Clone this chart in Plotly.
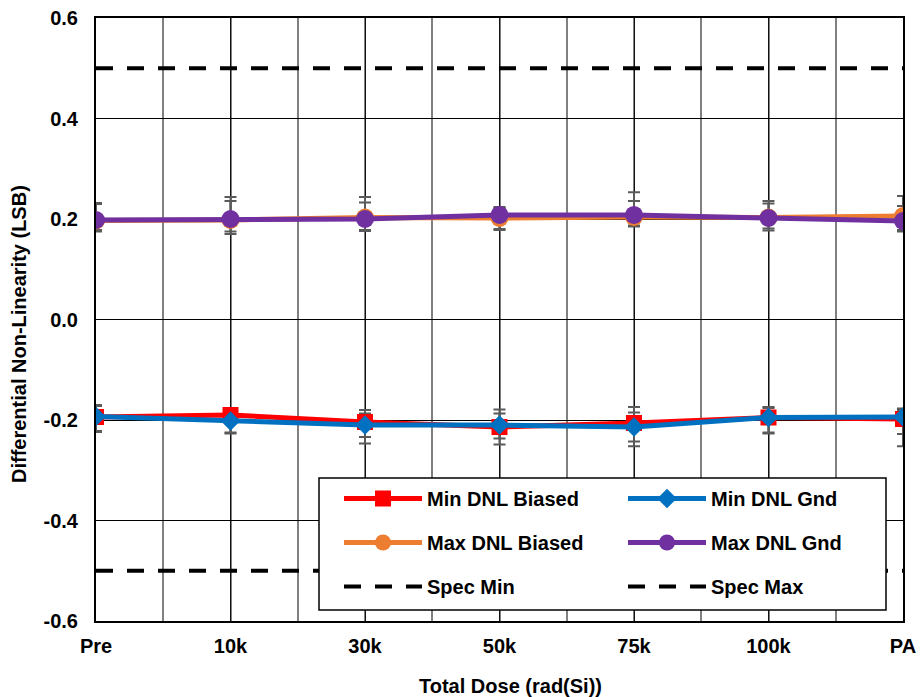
import plotly.graph_objects as go

# ---------------- data ----------------
categories = ["Pre", "10k", "30k", "50k", "75k", "100k", "PA"]

min_dnl_biased = [-0.194, -0.190, -0.204, -0.214, -0.206, -0.195, -0.198]
min_dnl_gnd = [-0.193, -0.202, -0.210, -0.210, -0.214, -0.195, -0.194]
max_dnl_biased = [0.197, 0.198, 0.203, 0.202, 0.204, 0.203, 0.206]
max_dnl_gnd = [0.198, 0.200, 0.200, 0.208, 0.208, 0.202, 0.196]

spec_min = [-0.5, -0.5, -0.5, -0.5, -0.5, -0.5, -0.5]
spec_max = [0.5, 0.5, 0.5, 0.5, 0.5, 0.5, 0.5]

# error-bar extents (upper / lower bounds)
min_biased_hi = [-0.170, -0.185, -0.180, -0.179, -0.174, -0.174, -0.177]
min_biased_lo = [-0.224, -0.227, -0.234, -0.237, -0.243, -0.227, -0.252]
min_gnd_hi = [-0.172, -0.185, -0.187, -0.187, -0.185, -0.176, -0.180]
min_gnd_lo = [-0.222, -0.225, -0.247, -0.249, -0.252, -0.225, -0.228]
max_biased_hi = [0.232, 0.236, 0.233, 0.224, 0.236, 0.231, 0.226]
max_biased_lo = [0.175, 0.175, 0.176, 0.178, 0.185, 0.181, 0.175]
max_gnd_hi = [0.230, 0.244, 0.244, 0.222, 0.253, 0.236, 0.246]
max_gnd_lo = [0.178, 0.170, 0.178, 0.180, 0.187, 0.177, 0.178]

y_tick_values = [-0.6, -0.4, -0.2, 0.0, 0.2, 0.4, 0.6]
y_tick_labels = ["-0.6", "-0.4", "-0.2", "0.0", "0.2", "0.4", "0.6"]

# ---------------- styling ----------------
FONT = "Liberation Sans, Arial, sans-serif"
x = list(range(len(categories)))

fig = go.Figure()


def err_trace(vals, hi, lo):
    up = [h - v for h, v in zip(hi, vals)]
    dn = [v - l for v, l in zip(vals, lo)]
    return go.Scatter(
        x=x, y=vals, mode="markers",
        marker=dict(size=1, color="rgba(0,0,0,0)"),
        error_y=dict(type="data", symmetric=False, array=up, arrayminus=dn,
                     color="#5a5a5a", thickness=2, width=6),
        showlegend=False, hoverinfo="skip",
    )


for vals, hi, lo in [
    (min_dnl_biased, min_biased_hi, min_biased_lo),
    (min_dnl_gnd, min_gnd_hi, min_gnd_lo),
    (max_dnl_biased, max_biased_hi, max_biased_lo),
    (max_dnl_gnd, max_gnd_hi, max_gnd_lo),
]:
    fig.add_trace(err_trace(vals, hi, lo))

series = [
    ("Min DNL Biased", min_dnl_biased, "#FF0000", "square", 16, "legend"),
    ("Min DNL Gnd", min_dnl_gnd, "#0070C0", "diamond", 15, "legend2"),
    ("Max DNL Biased", max_dnl_biased, "#ED7D31", "circle", 18, "legend"),
    ("Max DNL Gnd", max_dnl_gnd, "#7030A0", "circle", 18, "legend2"),
]
for name, vals, col, sym, sz, lg in series:
    fig.add_trace(go.Scatter(
        x=x, y=vals, name=name, mode="lines+markers",
        line=dict(color=col, width=5),
        marker=dict(color=col, symbol=sym, size=sz),
        legend=lg, legendgroup=name,
    ))

for name, vals, lg in [("Spec Min", spec_min, "legend"), ("Spec Max", spec_max, "legend2")]:
    fig.add_trace(go.Scatter(
        x=x, y=vals, name=name, mode="lines",
        line=dict(color="black", width=4, dash="17px,14px"),
        legend=lg, legendgroup=name,
    ))

W, H = 920, 697
ML, MR, MT, MB = 96, 17, 18, 76
PW, PH = W - ML - MR, H - MT - MB


def px_x(p):
    return (p - ML) / PW


def px_y(p):
    return (H - MB - p) / PH


legend_common = dict(
    xanchor="left", yanchor="top",
    bgcolor="rgba(0,0,0,0)", borderwidth=0,
    font=dict(family=FONT, size=20, color="black", weight="bold"),
    itemwidth=78, tracegroupgap=15, traceorder="grouped",
)

fig.update_layout(
    template="none",
    width=W, height=H, autosize=False,
    margin=dict(l=ML, r=MR, t=MT, b=MB, pad=0, autoexpand=False),
    paper_bgcolor="white", plot_bgcolor="white",
    font=dict(family=FONT, color="black"),
    xaxis=dict(
        range=[0, len(categories) - 1], automargin=False,
        tickmode="array", tickvals=x, ticktext=categories,
        tickfont=dict(family=FONT, size=20, weight="bold", color="black"),
        showgrid=True, gridcolor="#111111", gridwidth=1,
        minor=dict(dtick=0.5, showgrid=True, gridcolor="#808080", gridwidth=1.5),
        zeroline=False, showline=True, linecolor="black", linewidth=2, mirror=True,
        ticks="", ticklabelstandoff=6,
    ),
    yaxis=dict(
        range=[-0.6, 0.6], automargin=False,
        tickmode="array", tickvals=y_tick_values, ticktext=y_tick_labels,
        tickfont=dict(family=FONT, size=20, weight="bold", color="black"),
        showgrid=True, gridcolor="black", gridwidth=1,
        zeroline=False, showline=True, linecolor="black", linewidth=2, mirror=True,
        ticks="", ticklabelstandoff=12,
    ),
    legend=dict(x=px_x(339), y=px_y(479), **legend_common),
    legend2=dict(x=px_x(623), y=px_y(479), **legend_common),
    shapes=[dict(
        type="rect", xref="paper", yref="paper", layer="above",
        x0=px_x(319), x1=px_x(886), y0=px_y(610), y1=px_y(478),
        fillcolor="white", line=dict(color="black", width=1.5),
    )],
    annotations=[
        dict(text="Differential Non-Linearity (LSB)", textangle=-90,
             xref="paper", yref="paper", x=px_x(19), y=px_y(334),
             xanchor="center", yanchor="middle", showarrow=False,
             font=dict(family=FONT, size=20, weight="bold", color="black")),
        dict(text="Total Dose (rad(Si))",
             xref="paper", yref="paper", x=px_x(510), y=px_y(686),
             xanchor="center", yanchor="middle", showarrow=False,
             font=dict(family=FONT, size=20, weight="bold", color="black")),
    ],
    showlegend=True,
)

fig.write_html(
    "out.html",
    config={"displayModeBar": False, "responsive": False},
    post_script="document.body.style.margin='0';document.body.style.overflow='hidden';",
)
